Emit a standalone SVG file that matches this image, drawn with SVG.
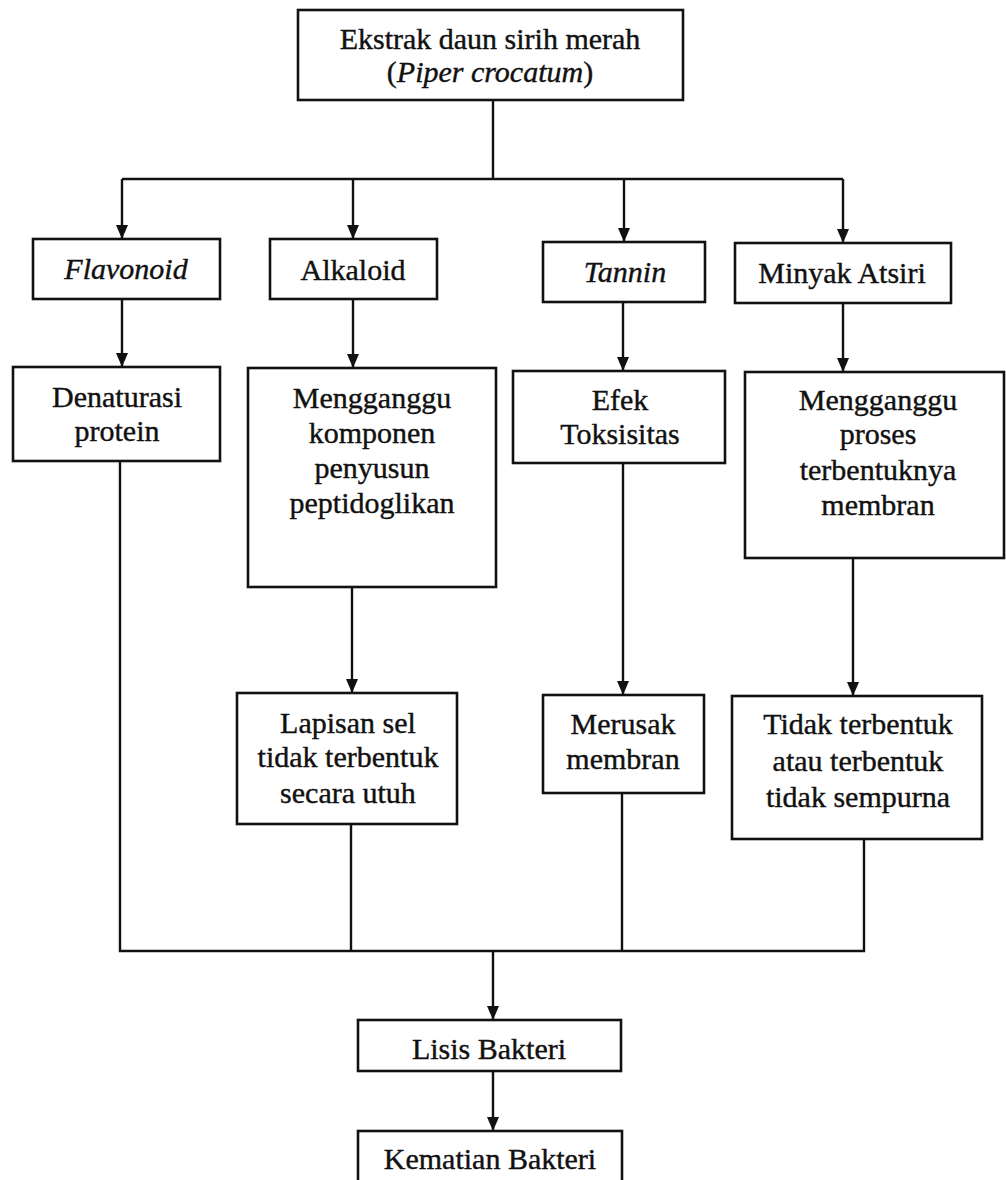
<svg xmlns="http://www.w3.org/2000/svg" width="1006" height="1180" viewBox="0 0 1006 1180">
<style>
.box{fill:#fff;stroke:#111;stroke-width:2.6}
.ln{fill:none;stroke:#111;stroke-width:2.4}
.t{font-family:"Liberation Serif","Times New Roman",serif;font-size:30px;fill:#111;stroke:#111;stroke-width:0.4;text-anchor:middle}
.i{font-style:italic}
</style>
<defs>
<marker id="arr" viewBox="0 0 14 12" refX="14" refY="6" markerWidth="14" markerHeight="12" markerUnits="userSpaceOnUse" orient="auto">
<path d="M0,0 L14,6 L0,12 z" fill="#111"/>
</marker>
</defs>
<rect width="1006" height="1180" fill="#fff"/>
<g id="connectors">
<path class="ln" d="M493,100 V179"/>
<path class="ln" d="M122,179 H843"/>
<path class="ln" d="M122,179 V239" marker-end="url(#arr)"/>
<path class="ln" d="M353,179 V239" marker-end="url(#arr)"/>
<path class="ln" d="M624,179 V242" marker-end="url(#arr)"/>
<path class="ln" d="M843,179 V243" marker-end="url(#arr)"/>
<path class="ln" d="M122,299 V367" marker-end="url(#arr)"/>
<path class="ln" d="M353,299 V368" marker-end="url(#arr)"/>
<path class="ln" d="M623,302 V371" marker-end="url(#arr)"/>
<path class="ln" d="M843,303 V372" marker-end="url(#arr)"/>
<path class="ln" d="M352,587 V693" marker-end="url(#arr)"/>
<path class="ln" d="M623,463 V695" marker-end="url(#arr)"/>
<path class="ln" d="M853,558 V696" marker-end="url(#arr)"/>
<path class="ln" d="M120,461 V951 H864 V839"/>
<path class="ln" d="M351,824 V951"/>
<path class="ln" d="M622,793 V951"/>
<path class="ln" d="M493,951 V1020" marker-end="url(#arr)"/>
<path class="ln" d="M493,1071 V1131" marker-end="url(#arr)"/>
</g>
<g id="ekstrak">
<rect class="box" x="298" y="10" width="385" height="90"/>
<text class="t" x="490" y="49">Ekstrak daun sirih merah</text>
<text class="t" x="490" y="82">(<tspan class="i">Piper crocatum</tspan>)</text>
</g>
<g id="flavonoid">
<rect class="box" x="33" y="239" width="187" height="60"/>
<text class="t i" x="126" y="279">Flavonoid</text>
</g>
<g id="alkaloid">
<rect class="box" x="270" y="239" width="167" height="60"/>
<text class="t" x="353" y="280">Alkaloid</text>
</g>
<g id="tannin">
<rect class="box" x="543" y="242" width="162" height="60"/>
<text class="t i" x="625" y="282">Tannin</text>
</g>
<g id="minyak">
<rect class="box" x="735" y="243" width="216" height="60"/>
<text class="t" x="842" y="283">Minyak Atsiri</text>
</g>
<g id="denaturasi">
<rect class="box" x="13" y="367" width="207" height="94"/>
<text class="t" x="117" y="407">Denaturasi</text>
<text class="t" x="117" y="441">protein</text>
</g>
<g id="mengganggu-komponen">
<rect class="box" x="248" y="368" width="248" height="219"/>
<text class="t" x="372" y="408">Mengganggu</text>
<text class="t" x="372" y="443">komponen</text>
<text class="t" x="372" y="478">penyusun</text>
<text class="t" x="372" y="513">peptidoglikan</text>
</g>
<g id="efek">
<rect class="box" x="513" y="371" width="212" height="92"/>
<text class="t" x="620" y="410">Efek</text>
<text class="t" x="620" y="444">Toksisitas</text>
</g>
<g id="mengganggu-proses">
<rect class="box" x="745" y="372" width="259" height="186"/>
<text class="t" x="878" y="410">Mengganggu</text>
<text class="t" x="878" y="444">proses</text>
<text class="t" x="878" y="480">terbentuknya</text>
<text class="t" x="878" y="515">membran</text>
</g>
<g id="lapisan">
<rect class="box" x="237" y="693" width="220" height="131"/>
<text class="t" x="348" y="733">Lapisan sel</text>
<text class="t" x="348" y="767">tidak terbentuk</text>
<text class="t" x="348" y="803">secara utuh</text>
</g>
<g id="merusak">
<rect class="box" x="543" y="695" width="161" height="98"/>
<text class="t" x="623" y="734">Merusak</text>
<text class="t" x="623" y="769">membran</text>
</g>
<g id="tidak">
<rect class="box" x="732" y="696" width="250" height="143"/>
<text class="t" x="858" y="734">Tidak terbentuk</text>
<text class="t" x="858" y="771">atau terbentuk</text>
<text class="t" x="858" y="807">tidak sempurna</text>
</g>
<g id="lisis">
<rect class="box" x="358" y="1020" width="263" height="51"/>
<text class="t" x="489" y="1059">Lisis Bakteri</text>
</g>
<g id="kematian">
<rect class="box" x="358" y="1131" width="264" height="52"/>
<text class="t" x="490" y="1169">Kematian Bakteri</text>
</g>
</svg>
